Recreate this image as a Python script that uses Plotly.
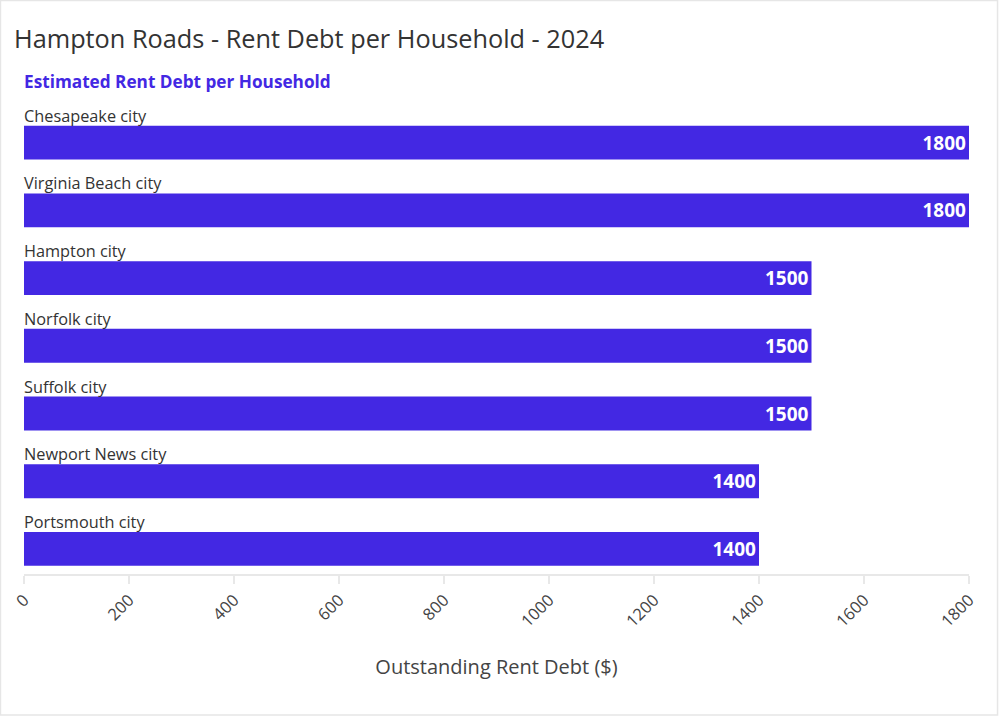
import plotly.graph_objects as go

categories = ["Chesapeake city", "Virginia Beach city", "Hampton city", "Norfolk city",
              "Suffolk city", "Newport News city", "Portsmouth city"]
values = [1800, 1800, 1500, 1500, 1500, 1400, 1400]
tick_vals = [0, 200, 400, 600, 800, 1000, 1200, 1400, 1600, 1800]

BAR = "#4328E3"
FONT = "Open Sans"

fig = go.Figure()
fig.add_trace(go.Bar(
    y=categories, x=values, orientation="h",
    marker=dict(color=BAR, line=dict(width=0)),
    text=[str(v) for v in values], textposition="inside", insidetextanchor="end",
    textfont=dict(color="white", size=19, family=FONT, weight="bold"),
    constraintext="none", cliponaxis=False, hoverinfo="skip",
))

for c in categories:
    fig.add_annotation(x=0, y=c, xref="x", yref="y", text=c, showarrow=False,
                       xanchor="left", yanchor="middle", yshift=27, xshift=-2,
                       font=dict(size=16.3, color="#333333", family=FONT))

fig.add_annotation(x=0, y=1.0, xref="paper", yref="paper", yshift=19, xshift=-2,
                   text="<b>Estimated Rent Debt per Household</b>", showarrow=False,
                   xanchor="left", yanchor="middle",
                   font=dict(size=17.2, color="#4328E3", family=FONT))

fig.add_shape(type="rect", xref="paper", yref="paper",
              x0=-0.0249, x1=1.0302, y0=-0.2975, y1=1.2099,
              line=dict(color="#e6e6e6", width=1.5), layer="below")

fig.update_layout(
    width=1000, height=717,
    margin=dict(l=24, r=31, t=100, b=143, autoexpand=False),
    paper_bgcolor="white", plot_bgcolor="white",
    title=dict(text="Hampton Roads - Rent Debt per Household - 2024",
               x=14/1000, xanchor="left", y=1 - 39/717, yanchor="middle",
               font=dict(size=25.3, color="#333333", family=FONT)),
    bargap=0.5, showlegend=False,
    xaxis=dict(range=[0, 1800], tickvals=tick_vals, tickangle=-45, automargin=False,
               showgrid=False, zeroline=False, showline=True, linecolor="#e8e8e8", linewidth=2,
               ticks="outside", ticklen=8, tickcolor="#e8e8e8", tickwidth=2,
               tickfont=dict(size=16.5, color="#444444", family=FONT),
               title=dict(text="Outstanding Rent Debt ($)", standoff=29,
                          font=dict(size=20, color="#444444", family=FONT))),
    yaxis=dict(categoryorder="array", categoryarray=categories, automargin=False,
               range=[6.37, -0.63], showticklabels=False, showgrid=False,
               zeroline=False, showline=False, ticks=""),
)

fig.write_html("out.html", config={"displayModeBar": False},
               post_script="document.body.style.margin='0';")
